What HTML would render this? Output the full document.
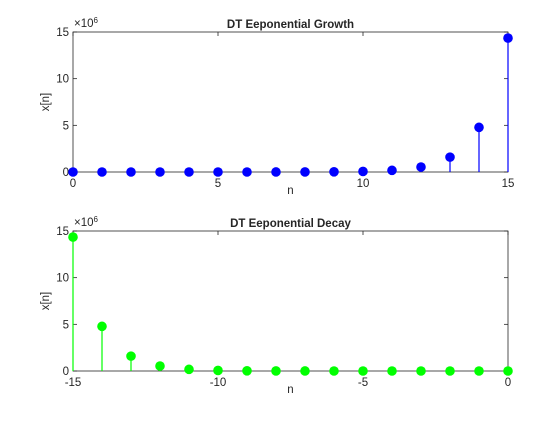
<!DOCTYPE html>
<html><head><meta charset="utf-8"><style>
body{margin:0;background:#fff;width:560px;height:420px;overflow:hidden}
text{font-family:"Liberation Sans",Arial,sans-serif;font-size:11.5px;fill:#262626}
</style></head><body>
<svg id="c" width="560" height="420"></svg>
<script>
const growthN=[0,1,2,3,4,5,6,7,8,9,10,11,12,13,14,15];
const growthX=[1,3,9,27,81,243,729,2187,6561,19683,59049,177147,531441,1594323,4782969,14348907];
const decayN=[-15,-14,-13,-12,-11,-10,-9,-8,-7,-6,-5,-4,-3,-2,-1,0];
const decayX=[14348907,4782969,1594323,531441,177147,59049,19683,6561,2187,729,243,81,27,9,3,1];
const yTicks=[0,5,10,15];
const topXTicks=[0,5,10,15];
const botXTicks=[-15,-10,-5,0];
const NS="http://www.w3.org/2000/svg";
const svg=document.getElementById('c');
function el(t,a,p){const e=document.createElementNS(NS,t);for(const k in a)e.setAttribute(k,a[k]);(p||svg).appendChild(e);return e;}
function panel(name,top,bottom,xmin,xmax,xt,ns,xs,color,title){
  const L=73,R=508;
  const g=el('g',{});
  
  
  const sx=v=>L+(v-xmin)/(xmax-xmin)*(R-L);
  const sy=v=>bottom-v/15e6*(bottom-top);
  el('rect',{x:L,y:top,width:R-L,height:bottom-top,fill:'#fff',stroke:'#262626','stroke-width':0.8},g);
  xt.forEach(t=>{const x=sx(t);
    el('line',{x1:x,y1:bottom,x2:x,y2:bottom-4,stroke:'#262626','stroke-width':0.8},g);
    el('line',{x1:x,y1:top,x2:x,y2:top+4,stroke:'#262626','stroke-width':0.8},g);
    const tx=el('text',{x:x,y:bottom+15,'text-anchor':'middle'},g);tx.textContent=t;
    
    });
  yTicks.forEach(t=>{const y=sy(t*1e6);
    el('line',{x1:L,y1:y,x2:L+4,y2:y,stroke:'#262626','stroke-width':0.8},g);
    el('line',{x1:R,y1:y,x2:R-4,y2:y,stroke:'#262626','stroke-width':0.8},g);
    const tx=el('text',{x:L-4,y:y+4,'text-anchor':'end'},g);tx.textContent=t;
    
    });
  const ex=el('text',{x:L+1,y:top-5,'font-size':'10'},g);ex.innerHTML='×10<tspan dy="-4" font-size="8">6</tspan>';
  
  
  const tt=el('text',{x:(L+R)/2,y:top-4,'text-anchor':'middle','font-weight':'bold'},g);tt.textContent=title;
  
  
  const xl=el('text',{x:(L+R)/2,y:bottom+22,'text-anchor':'middle'},g);xl.textContent='n';
  
  
  const yc=(top+bottom)/2;
  const yl=el('text',{x:49,y:yc,'text-anchor':'middle',transform:`rotate(-90 49 ${yc})`},g);yl.textContent='x[n]';
  
  
  ns.forEach((n,i)=>{const x=sx(n),y=sy(xs[i]);
    const s=el('line',{x1:x,y1:bottom,x2:x,y2:y,stroke:color,'stroke-width':1.2},g);
    
    
    const c=el('circle',{cx:x,cy:y,r:4.8,fill:color},g);
    
    });
}
panel('growth-plot',32,172,0,15,topXTicks,growthN,growthX,'#0000ff','DT Eeponential Growth');
panel('decay-plot',231,371,-15,0,botXTicks,decayN,decayX,'#00ff00','DT Eeponential Decay');
</script>
</body></html>
